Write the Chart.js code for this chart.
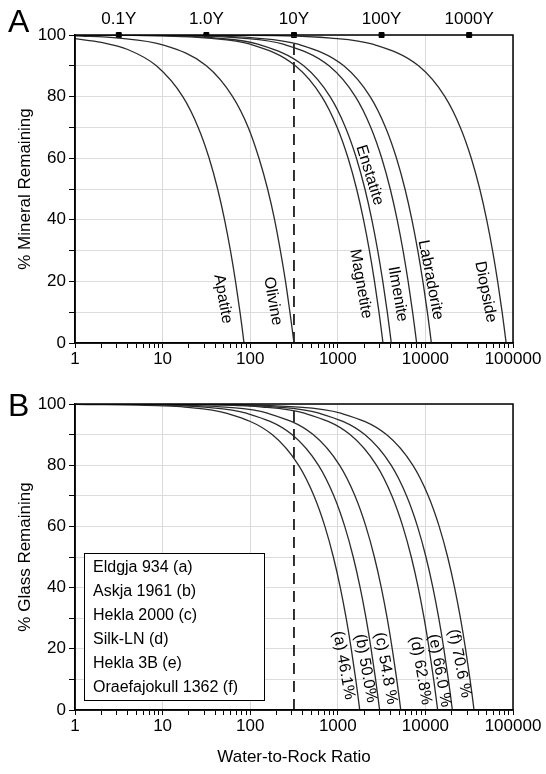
<!DOCTYPE html>
<html>
<head>
<meta charset="utf-8">
<script src="https://cdn.jsdelivr.net/npm/chart.js@4.4.1/dist/chart.umd.min.js"></script>
<style>
  html, body { margin: 0; padding: 0; background: #fff; }
  #wrap { position: relative; width: 546px; height: 774px; }
  canvas { position: absolute; left: 0; }
  #chartA { top: 0; }
  #chartB { top: 380px; }
</style>
</head>
<body>
<div id="wrap">
  <canvas id="chartA" width="546" height="380"></canvas>
  <canvas id="chartB" width="546" height="394"></canvas>
</div>
<script>
// ---- data ----
const xTickLabels = [1, 10, 100, 1000, 10000, 100000];
const yTickLabels = [0, 20, 40, 60, 80, 100];
const ageMarks = [3.16, 31.6, 316, 3160, 31600];
const ageLabels = ['0.1Y', '1.0Y', '10Y', '100Y', '1000Y'];
const refRatio = 316;

// panel A: % mineral remaining vs water/rock
const mineralNames = ['Apatite', 'Olivine', 'Magnetite', 'Enstatite', 'Ilmenite', 'Labradorite', 'Diopside'];
const apatite = [[1,98.8],[2,97.6],[4,95.3],[8.5,90],[17,80],[25.5,70],[34,60],[42.5,50],[51,40],[59.5,30],[68,20],[76.5,10],[80.8,5],[85,0]];
const olivine = [[1,99.7],[3.16,99],[10,96.8],[31.6,90],[63,80],[95,70],[126,60],[158,50],[190,40],[221,30],[253,20],[284,10],[300,5],[316,0]];
const magnetite = [[1,100],[10,99.7],[33,99],[100,97],[328,90],[656,80],[984,70],[1312,60],[1640,50],[1968,40],[2296,30],[2624,20],[2952,10],[3116,5],[3280,0]];
const enstatite = [[1,100],[10,99.8],[41,99],[122,97],[408,90],[816,80],[1224,70],[1632,60],[2040,50],[2448,40],[2856,30],[3264,20],[3672,10],[3876,5],[4080,0]];
const ilmenite = [[1,100],[10,99.9],[79,99],[238,97],[794,90],[1588,80],[2382,70],[3176,60],[3970,50],[4764,40],[5558,30],[6352,20],[7146,10],[7543,5],[7940,0]];
const labradorite = [[1,100],[10,99.9],[117,99],[351,97],[1170,90],[2340,80],[3510,70],[4680,60],[5850,50],[7020,40],[8190,30],[9360,20],[10530,10],[11115,5],[11700,0]];
const diopside = [[1,100],[100,99.9],[835,99],[2505,97],[8350,90],[16700,80],[25050,70],[33400,60],[41750,50],[50100,40],[58450,30],[66800,20],[75150,10],[79325,5],[83500,0]];

// panel B: % glass remaining
const glassNames = ['Eldgja 934 (a)', 'Askja 1961 (b)', 'Hekla 2000 (c)', 'Silk-LN (d)', 'Hekla 3B (e)', 'Oraefajokull 1362 (f)'];
const glassTags = ['(a) 46.1%', '(b) 50.0%', '(c) 54.8 %', '(d) 62.8%', '(e) 66.0 %', '(f) 70.6 %'];
const eldgja = [[1,99.9],[10,99.4],[17.8,99],[53,97],[178,90],[356,80],[534,70],[712,60],[890,50],[1068,40],[1246,30],[1424,20],[1602,10],[1691,5],[1780,0]];
const askja = [[1,100],[10,99.7],[30,99],[90,97],[300,90],[600,80],[900,70],[1200,60],[1500,50],[1800,40],[2100,30],[2400,20],[2700,10],[2850,5],[3000,0]];
const hekla2000 = [[1,100],[10,99.8],[52,99],[157,97],[523,90],[1046,80],[1569,70],[2092,60],[2615,50],[3138,40],[3661,30],[4184,20],[4707,10],[4969,5],[5230,0]];
const silkLN = [[1,100],[10,99.9],[138,99],[414,97],[1380,90],[2760,80],[4140,70],[5520,60],[6900,50],[8280,40],[9660,30],[11040,20],[12420,10],[13110,5],[13800,0]];
const hekla3B = [[1,100],[10,100],[203,99],[609,97],[2030,90],[4060,80],[6090,70],[8120,60],[10150,50],[12180,40],[14210,30],[16240,20],[18270,10],[19285,5],[20300,0]];
const oraefa = [[1,100],[10,100],[359,99],[1077,97],[3590,90],[7180,80],[10770,70],[14360,60],[17950,50],[21540,40],[25130,30],[28720,20],[32310,10],[34105,5],[35900,0]];

// where the curve names sit (data coords) and their tilt
const mineralTagPos = [[48.7,14.3,80],[181,13.6,80],[1824,19.2,80],[2312,54.5,73],[4820,15.9,80],[11460,20.5,79],[48540,16.6,79]];
const glassTagPos = [[1167,14.6,80],[2080,13.6,80],[3516,13.6,80],[8810,12.9,80],[14520,12.9,80],[24550,15.2,79]];

const FONT = "'Liberation Sans', Arial, Helvetica, sans-serif";
Chart.defaults.font.family = FONT;
Chart.defaults.color = '#000';

const isDecade = v => v > 0 && Math.abs(Math.log10(v) - Math.round(Math.log10(v))) < 1e-6;
const logTicks = [];
for (let e = 0; e < 5; e++) {
  for (let m = 1; m < 10; m++) logTicks.push(m * Math.pow(10, e));
}
logTicks.push(100000);

function curve(data) {
  return {
    data: data, borderColor: '#2b2b2b', borderWidth: 1.3, pointRadius: 0,
    cubicInterpolationMode: 'monotone', fill: false
  };
}

function rotatedText(ctx, text, x, y, deg, size) {
  ctx.save();
  ctx.translate(x, y);
  ctx.rotate(deg * Math.PI / 180);
  ctx.font = size + 'px ' + FONT;
  ctx.textAlign = 'center';
  ctx.textBaseline = 'middle';
  ctx.fillStyle = '#000';
  ctx.fillText(text, 0, 0);
  ctx.restore();
}

function makePanel(id, series, opts) {
  const datasets = series.map(curve);
  datasets.push({
    data: [[refRatio, 0], [refRatio, 100]], borderColor: '#000', borderWidth: 1.6,
    borderDash: [11, 7], pointRadius: 0, tension: 0
  });
  if (opts.ages) {
    datasets.push({
      data: ageMarks.map(v => [v, 100]), showLine: false, pointStyle: 'rect',
      pointRadius: 3.5, pointBackgroundColor: '#000', pointBorderColor: '#000', clip: false
    });
  }

  const deco = {
    id: 'deco',
    afterDatasetsDraw(chart) {
      const ctx = chart.ctx;
      const a = chart.chartArea;
      const xs = chart.scales.x, ys = chart.scales.y;

      // curve names
      opts.tags.forEach((t, i) => {
        const p = opts.tagPos[i];
        rotatedText(ctx, t, xs.getPixelForValue(p[0]), ys.getPixelForValue(p[1]), p[2], 16);
      });

      // legend box (panel B)
      if (opts.legend) {
        ctx.save();
        ctx.fillStyle = '#fff';
        ctx.fillRect(84, 173, 180, 147);
        ctx.strokeStyle = '#000';
        ctx.lineWidth = 1;
        ctx.strokeRect(84.5, 173.5, 180, 147);
        ctx.font = '16px ' + FONT;
        ctx.fillStyle = '#000';
        ctx.textAlign = 'left';
        ctx.textBaseline = 'middle';
        opts.legend.forEach((n, i) => ctx.fillText(n, 93, 188 + i * 24));
        ctx.restore();
      }

      // frame
      ctx.save();
      ctx.strokeStyle = '#000';
      ctx.lineWidth = 1.5;
      ctx.strokeRect(a.left, a.top, a.right - a.left, a.bottom - a.top);
      ctx.restore();
    },
    afterDraw(chart) {
      const ctx = chart.ctx;
      const a = chart.chartArea;
      const xs = chart.scales.x;
      ctx.save();
      ctx.fillStyle = '#000';
      ctx.font = '32px ' + FONT;
      ctx.textAlign = 'left';
      ctx.textBaseline = 'alphabetic';
      ctx.fillText(opts.letter, 8, opts.letterY);
      ctx.restore();

      rotatedText(ctx, opts.yTitle, 25, (a.top + a.bottom) / 2, -90, 17);

      if (opts.ages) {
        ctx.save();
        ctx.font = '17px ' + FONT;
        ctx.fillStyle = '#000';
        ctx.textAlign = 'center';
        ctx.textBaseline = 'middle';
        ageMarks.forEach((v, i) => ctx.fillText(ageLabels[i], xs.getPixelForValue(v), 19));
        ctx.restore();
      }
      if (opts.xTitle) {
        ctx.save();
        ctx.font = '17px ' + FONT;
        ctx.fillStyle = '#000';
        ctx.textAlign = 'center';
        ctx.textBaseline = 'middle';
        ctx.fillText(opts.xTitle, (a.left + a.right) / 2, 377);
        ctx.restore();
      }
    }
  };

  return new Chart(document.getElementById(id), {
    type: 'line',
    data: { datasets: datasets },
    options: {
      responsive: false,
      animation: false,
      devicePixelRatio: 1,
      events: [],
      layout: { padding: { top: opts.padTop, right: 33, left: 0, bottom: 0 } },
      plugins: { legend: { display: false }, tooltip: { enabled: false } },
      scales: {
        x: {
          type: 'logarithmic', min: 1, max: 100000,
          afterBuildTicks: s => { s.ticks = logTicks.map(v => ({ value: v, major: isDecade(v) })); },
          afterFit: s => { s.height = opts.xHeight; },
          ticks: {
            autoSkip: false, maxRotation: 0, padding: 1,
            font: { size: 17 }, color: '#000',
            callback: v => (xTickLabels.indexOf(v) >= 0 ? String(v) : '')
          },
          grid: {
            color: c => (c.tick && isDecade(c.tick.value) ? '#d9d9d9' : 'rgba(0,0,0,0)'),
            tickColor: '#000', tickLength: 5, lineWidth: 1
          },
          border: { display: true, color: '#000', width: 1.5 }
        },
        y: {
          min: 0, max: 100,
          afterFit: s => { s.width = 75; },
          ticks: {
            stepSize: 10, autoSkip: false, padding: 3,
            font: { size: 17 }, color: '#000',
            callback: v => (yTickLabels.indexOf(v) >= 0 ? String(v) : '')
          },
          grid: { color: '#dcdcdc', tickColor: '#000', tickLength: 6, lineWidth: 1 },
          border: { display: true, color: '#000', width: 1.5 }
        }
      }
    },
    plugins: [deco]
  });
}

makePanel('chartA', [apatite, olivine, magnetite, enstatite, ilmenite, labradorite, diopside], {
  padTop: 35, xHeight: 37, letter: 'A', letterY: 32, yTitle: '% Mineral Remaining',
  tags: mineralNames, tagPos: mineralTagPos, ages: true
});

makePanel('chartB', [eldgja, askja, hekla2000, silkLN, hekla3B, oraefa], {
  padTop: 24, xHeight: 64, letter: 'B', letterY: 36, yTitle: '% Glass Remaining',
  tags: glassTags, tagPos: glassTagPos, legend: glassNames, xTitle: 'Water-to-Rock Ratio'
});
</script>
</body>
</html>
